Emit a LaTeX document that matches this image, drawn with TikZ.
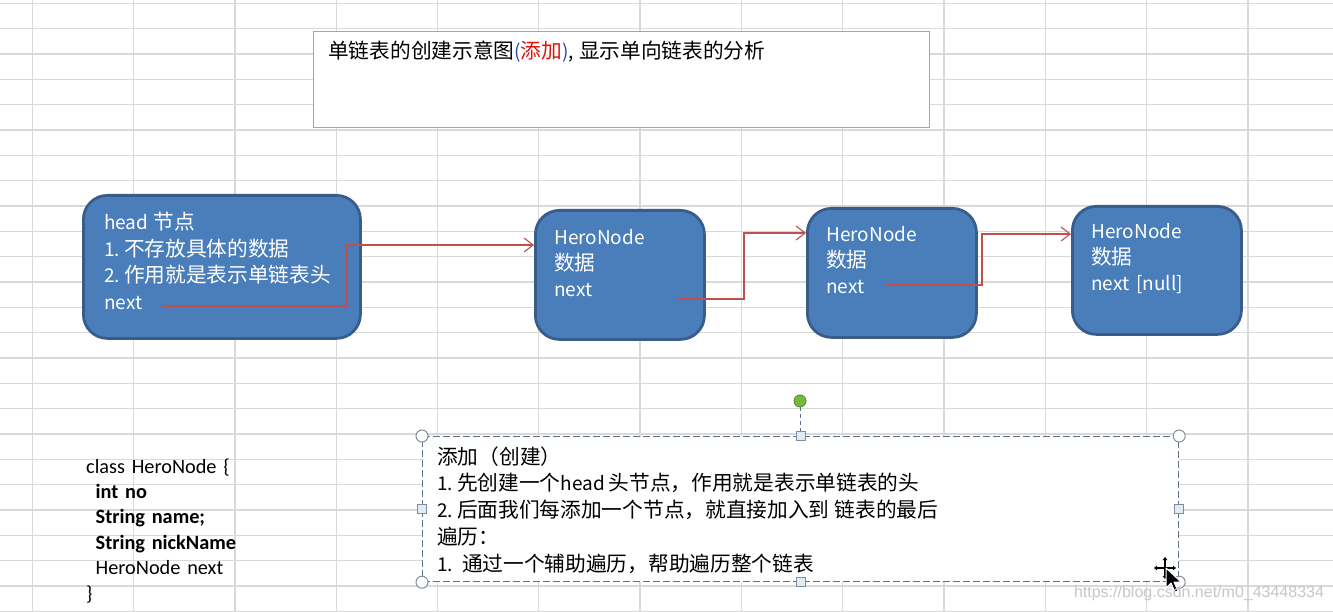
\documentclass[tikz,border=0pt]{standalone}
\usepackage{fontspec}
\setmainfont{Noto Sans CJK SC}
\newfontfamily\calfont{Carlito}
\newfontfamily\wmfont{Liberation Sans}
\usetikzlibrary{arrows.meta}
\newcommand\lt[1]{{\fontsize{19}{20}\selectfont #1}}
\definecolor{gridc}{RGB}{217,217,217}
\definecolor{nodefill}{RGB}{74,126,187}
\definecolor{nodeline}{RGB}{56,93,138}
\definecolor{linkred}{RGB}{192,80,77}
\definecolor{titleline}{RGB}{165,165,165}
\definecolor{selline}{RGB}{96,114,138}
\definecolor{handlefill}{RGB}{226,234,243}
\definecolor{handleline}{RGB}{128,140,160}
\definecolor{rotgreen}{RGB}{118,184,56}
\definecolor{rotline}{RGB}{80,140,40}
\definecolor{parenblue}{RGB}{40,70,170}
\definecolor{addred}{RGB}{225,20,10}
\begin{document}
\begin{tikzpicture}[x=1pt,y=-1pt,
  gridline/.style={gridc, line width=1.3pt},
  herobox/.style={draw=nodeline, line width=2.8pt, fill=nodefill, rounded corners=24pt, inner sep=0pt, anchor=north west},
  boxtext/.style={text=white, font=\fontsize{20.7}{26.6}\selectfont, anchor=base west, inner sep=0pt, align=left, text width=250pt},
  nodetext/.style={boxtext, font=\fontsize{20.7}{26}\selectfont, text width=145pt},
  plaintext/.style={text=black, font=\fontsize{20.7}{26.8}\selectfont, anchor=base west, inner sep=0pt, align=left, text width=600pt},
  classtext/.style={text=black, font=\calfont\fontsize{20.3}{25.4}\selectfont, anchor=base west, inner sep=0pt, align=left, text width=200pt},
  link/.style={draw=linkred, line width=1.1pt, -{Straight Barb[length=9pt,width=14pt]}},
  titlebox/.style={draw=titleline, line width=1.2pt, fill=white, inner sep=0pt, anchor=north west},
  selbox/.style={draw=selline, line width=1.2pt, dash pattern=on 7pt off 3pt, fill=white, inner sep=0pt, anchor=north west},
  cornerhandle/.style={circle, draw=handleline, line width=1pt, fill=white, minimum size=12pt, inner sep=0pt},
  sidehandle/.style={rectangle, draw=handleline, line width=1pt, fill=handlefill, minimum size=9pt, inner sep=0pt},
  rothandle/.style={circle, draw=rotline, line width=0.8pt, fill=rotgreen, minimum size=12pt, inner sep=0pt},
  wm/.style={text=black!22, font=\wmfont\fontsize{16}{18}\selectfont, inner sep=0pt}
]
\useasboundingbox (0,0) rectangle (1333,612);
\fill[white] (0,0) rectangle (1333,612);
% spreadsheet grid
\foreach \i in {0,...,12} \draw[gridline] ({32.3+101.3*\i},0) -- ({32.3+101.3*\i},612);
\foreach \j in {0,...,24} \draw[gridline] (0,{3.3+25.33*\j}) -- (1333,{3.3+25.33*\j});

% title box
\node[titlebox, minimum width=616pt, minimum height=96pt] (title) at (313,31) {};
\node[plaintext] (titletext) at (328,59) {单链表的创建示意图{\color{parenblue}\lt{(}}{\color{addred}添加}{\color{parenblue}\lt{)}}\lt{,}\hspace{5pt}显示单向链表的分析};

% linked list nodes
\node[herobox, minimum width=277pt, minimum height=143pt] (head) at (82,194) {};
\node[boxtext] (headtext) at (104,229.5) {\lt{head}\hspace{5pt}节点\\\lt{1.}\hspace{4pt}不存放具体的数据\\\lt{2.}\hspace{4pt}作用就是表示单链表头\\\lt{next}};

\node[herobox, minimum width=169pt, minimum height=129pt] (n2) at (534,209) {};
\node[nodetext] (n2text) at (554,244.5) {\lt{HeroNode}\\数据\\\lt{next}};

\node[herobox, minimum width=169pt, minimum height=129pt] (n3) at (806,207) {};
\node[nodetext] (n3text) at (826,241.5) {\lt{HeroNode}\\数据\\\lt{next}};

\node[herobox, minimum width=169pt, minimum height=128pt] (n4) at (1071,205) {};
\node[nodetext] (n4text) at (1091,239) {\lt{HeroNode}\\数据\\\lt{next [null]}};

% next links
\coordinate (s1) at (162,306);
\coordinate (v1) at (347,245);
\coordinate (s2) at (677,299);
\coordinate (v2) at (744,233);
\coordinate (s3) at (886,285);
\coordinate (v3) at (982,234);
\draw[link] (s1) -| (v1) -- (n2.west |- v1);
\draw[link] (s2) -| (v2) -- (n3.west |- v2);
\draw[link] (s3) -| (v3) -- (n4.west |- v3);

% class definition
\node[classtext] (classdef) at (86,473) {class HeroNode \{\\
\hspace*{9.5pt}\textbf{int no}\\
\hspace*{9.5pt}\textbf{String name;}\\
\hspace*{9.5pt}\textbf{String nickName}\\
\hspace*{9.5pt}HeroNode next\\
\}};

% selected note box
\node[rothandle] (rot) at (800,401) {};
\draw[selline, line width=1pt, dash pattern=on 4pt off 3pt] (rot) -- (800,436);
\node[selbox, minimum width=756pt, minimum height=145pt] (note) at (422,436) {};
\node[plaintext, text width=720pt] (notetext) at (437,464) {添加（创建）\\\lt{1.}\hspace{4pt}先创建一个\lt{head}\hspace{4pt}头节点，作用就是表示单链表的头\\\lt{2.}\hspace{4pt}后面我们每添加一个节点，就直接加入到\hspace{5pt}链表的最后\\遍历：\\\lt{1.}\hspace{9pt}通过一个辅助遍历，帮助遍历整个链表};
\node[cornerhandle] (hnw) at (note.north west) {};
\node[cornerhandle] (hne) at (note.north east) {};
\node[cornerhandle] (hsw) at (note.south west) {};
\node[cornerhandle] (hse) at (note.south east) {};
\node[sidehandle] (hn) at (note.north) {};
\node[sidehandle] (hs) at (note.south) {};
\node[sidehandle] (hw) at (note.west) {};
\node[sidehandle] (he) at (note.east) {};

% move cursor
\draw[black, line width=1.2pt, -{Triangle[length=3pt,width=4.5pt]}] (1165,568) -- (1154,568);
\draw[black, line width=1.2pt, -{Triangle[length=3pt,width=4.5pt]}] (1165,568) -- (1176,568);
\draw[black, line width=1.2pt, -{Triangle[length=3pt,width=4.5pt]}] (1165,568) -- (1165,557);
\draw[black, line width=1.2pt, -{Triangle[length=3pt,width=4.5pt]}] (1165,568) -- (1165,579);
\filldraw[fill=black, draw=white, line width=1pt, line join=round]
  (1166,568) -- (1166,588) -- (1171,583) -- (1175,592) -- (1178,591) -- (1174,582) -- (1181,582) -- cycle;

% watermark
\node[wm] (wm) at (1199,593) {https://blog.csdn.net/m0\_43448334};
\end{tikzpicture}
\end{document}
